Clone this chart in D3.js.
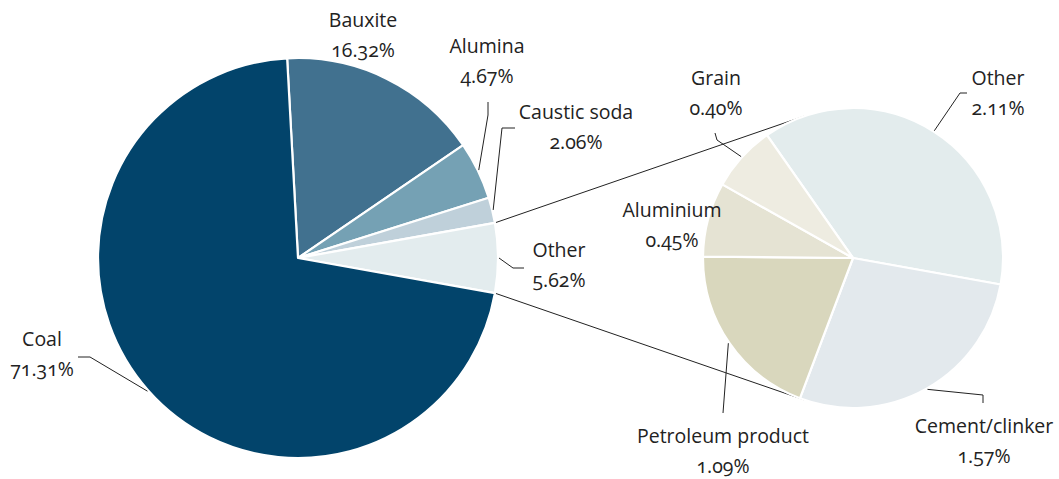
<!DOCTYPE html>
<html>
<head>
<meta charset="utf-8">
<script src="https://cdn.jsdelivr.net/npm/d3@7"></script>
<style>
  body { margin: 0; background: #fff; }
  text { font-family: "Open Sans", "Noto Sans", sans-serif; font-size: 19.5px; fill: #222; font-variant-numeric: oldstyle-nums; }
</style>
</head>
<body>
<svg width="1059" height="479"></svg>
<script>
// main pie: share of total by commodity (%)
const mainCategories = ["Bauxite", "Alumina", "Caustic soda", "Other", "Coal"];
const mainValues = [16.32, 4.67, 2.06, 5.62, 71.31];
const mainColors = ["#41718f", "#75a1b4", "#bfd0da", "#e3ecee", "#02446b"];

// breakdown of "Other" (%)
const otherCategories = ["Other", "Cement/clinker", "Petroleum product", "Aluminium", "Grain"];
const otherValues = [2.11, 1.57, 1.09, 0.45, 0.40];
const otherColors = ["#e3eced", "#e3e9ed", "#d9d7bd", "#e5e3d3", "#eeece1"];

const svg = d3.select("svg");
const deg = Math.PI / 180;

const mainC = { x: 298, y: 258, r: 200 };
const subC = { x: 853, y: 258, r: 150 };

// label placement (annotation layout only): text centre/baseline, leader bend points
const mainLabels = {
  "Bauxite": { x: 363, y: 27 },
  "Alumina": { x: 487, y: 53, leader: [[488, 115], [488, 102]] },
  "Caustic soda": { x: 576, y: 119, leader: [[502, 128], [515, 128]] },
  "Other": { x: 559, y: 257, leader: [[513, 268], [524, 268]] },
  "Coal": { x: 42, y: 346, leader: [[90, 357], [78, 357]] }
};
const subLabels = {
  "Other": { x: 998, y: 85, leader: [[960, 93], [967, 93]] },
  "Cement/clinker": { x: 984, y: 433, leader: [[983, 395], [983, 403]] },
  "Petroleum product": { x: 723, y: 443, leader: [[723, 413]] },
  "Aluminium": { x: 672, y: 217 },
  "Grain": { x: 716, y: 85, leader: [[717, 140], [715, 133]] }
};

// main pie is rotated so the "Other" slice is centred at 3 o'clock
const mainTotal = d3.sum(mainValues);
const otherIdx = mainCategories.indexOf("Other");
const before = d3.sum(mainValues.slice(0, otherIdx));
const mainStart = Math.PI / 2 - (before + mainValues[otherIdx] / 2) / mainTotal * 2 * Math.PI;

const mainPie = d3.pie().sort(null).startAngle(mainStart).endAngle(mainStart + 2 * Math.PI);
const subStart = -35 * deg;
const subPie = d3.pie().sort(null).startAngle(subStart).endAngle(subStart + 2 * Math.PI);

const mainArcs = mainPie(mainValues);
const subArcs = subPie(otherValues);

const polar = (c, a, r) => [c.x + r * Math.sin(a), c.y - r * Math.cos(a)];

// connector lines: tangents from the "Other" slice corners to the second pie
const oArc = mainArcs[otherIdx];
function tangent(p, c, r, side) {
  const dx = c.x - p[0], dy = c.y - p[1];
  const d = Math.hypot(dx, dy);
  const th = Math.atan2(dy, dx) + side * Math.asin(r / d);
  const L = Math.sqrt(d * d - r * r);
  return [p[0] + L * Math.cos(th), p[1] + L * Math.sin(th)];
}
const p1 = polar(mainC, oArc.startAngle, mainC.r);
const p2 = polar(mainC, oArc.endAngle, mainC.r);
const t1 = tangent(p1, subC, subC.r, -1);
const t2 = tangent(p2, subC, subC.r, 1);
const conn = svg.append("g").attr("stroke", "#222").attr("stroke-width", 1).attr("fill", "none");
conn.append("line").attr("x1", p1[0]).attr("y1", p1[1]).attr("x2", t1[0]).attr("y2", t1[1]);
conn.append("line").attr("x1", p2[0]).attr("y1", p2[1]).attr("x2", t2[0]).attr("y2", t2[1]);

function drawPie(c, arcs, colors) {
  const arc = d3.arc().innerRadius(0).outerRadius(c.r);
  svg.append("g")
    .attr("transform", `translate(${c.x}, ${c.y})`)
    .selectAll("path")
    .data(arcs)
    .join("path")
    .attr("d", arc)
    .attr("fill", (d, i) => colors[i])
    .attr("stroke", "#fff")
    .attr("stroke-width", 2.2)
    .attr("stroke-linejoin", "round");
}
drawPie(mainC, mainArcs, mainColors);
drawPie(subC, subArcs, otherColors);

function drawLabels(c, arcs, cats, vals, layout) {
  const g = svg.append("g");
  arcs.forEach((a, i) => {
    const L = layout[cats[i]];
    if (L.leader) {
      const mid = (a.startAngle + a.endAngle) / 2;
      const pts = [polar(c, mid, c.r + 1)].concat(L.leader);
      g.append("path")
        .attr("d", d3.line()(pts))
        .attr("fill", "none")
        .attr("stroke", "#222")
        .attr("stroke-width", 1);
    }
    const t = g.append("text").attr("text-anchor", "middle");
    t.append("tspan").attr("x", L.x).attr("y", L.y).text(cats[i]);
    t.append("tspan").attr("x", L.x).attr("y", L.y + 30).text(vals[i].toFixed(2) + "%");
  });
}
drawLabels(mainC, mainArcs, mainCategories, mainValues, mainLabels);
drawLabels(subC, subArcs, otherCategories, otherValues, subLabels);
</script>
</body>
</html>
